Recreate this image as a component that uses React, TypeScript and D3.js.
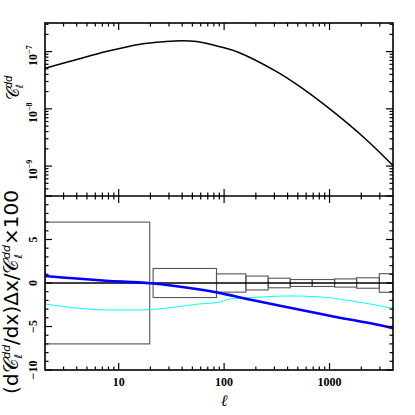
import React from "react";
import * as d3 from "d3";

// ---- data ----
const ELL_TOP = [2, 3.7, 7.6, 16, 28, 40, 55, 91, 136, 315, 524, 1084, 2249, 4000];
const CL_DD = [5.13e-8, 6.97e-8, 1.0e-7, 1.35e-7, 1.5e-7, 1.55e-7, 1.5e-7, 1.22e-7, 9.77e-8, 4.47e-8, 2.44e-8, 8.93e-9, 2.86e-9, 1.02e-9];

const ELL_BLUE = [2, 3.7, 7.6, 20, 59, 91, 124, 161, 524, 1084, 2249, 4000];
const DERIV_BLUE = [0.8, 0.54, 0.26, -0.03, -0.75, -1.15, -1.5, -1.8, -3.08, -3.84, -4.55, -5.2];

const ELL_CYAN = [2, 3.7, 7.6, 15.8, 32.8, 59, 87, 113, 175, 420, 753, 1563, 4000];
const DERIV_CYAN = [-2.41, -2.84, -3.1, -3.1, -2.8, -2.4, -2.26, -1.84, -1.69, -1.49, -1.57, -2.03, -2.91];

const BIN_LO = [2, 21.2, 84.7, 161, 262, 424, 685, 1117, 1807, 2965];
const BIN_HI = [19.7, 84.7, 161, 262, 424, 685, 1117, 1807, 2965, 4000];
const BIN_ERR = [7, 1.67, 1.05, 0.8, 0.55, 0.4, 0.4, 0.47, 0.6, 1.07];

const X_MAJOR = [10, 100, 1000];
const X_LABELS = ["10", "100", "1000"];
const TOP_MAJOR = [1e-9, 1e-8, 1e-7];
const TOP_LABELS = ["−9", "−8", "−7"];
const BOT_MAJOR = [-10, -5, 0, 5, 10];
const BOT_LABELS = ["−10", "−5", "0", "5", ""];

// ---- layout ----
const W = 415, H = 415;
const L = 45, R = 393, T = 23, M = 196, B = 370;

export default function App() {
  const x = d3.scaleLog().domain([2, 4000]).range([L, R]);
  const yTop = d3.scaleLog().domain([3.0e-10, 3.16e-7]).range([M, T]);
  const yBot = d3.scaleLinear().domain([-10, 10]).range([B, M]);

  const xMinor: number[] = [];
  for (let e = 0; e <= 3; e++) for (let k = 2; k <= 9; k++) {
    const v = k * Math.pow(10, e);
    if (v > 2 && v < 4000) xMinor.push(v);
  }
  const topMinor: number[] = [];
  for (let e = -10; e <= -7; e++) for (let k = 2; k <= 9; k++) {
    const v = k * Math.pow(10, e);
    if (v > 3.0e-10 && v < 3.16e-7) topMinor.push(v);
  }
  const botMinor = d3.range(-9, 10).filter((v) => v % 5 !== 0);

  const topLine = d3.line<number>()
    .x((_, i) => x(ELL_TOP[i]))
    .y((d) => yTop(d))
    .curve(d3.curveCatmullRom.alpha(0.5));
  const blueLine = d3.line<number>()
    .x((_, i) => x(ELL_BLUE[i]))
    .y((d) => yBot(d))
    .curve(d3.curveCatmullRom.alpha(0.5));
  const cyanLine = d3.line<number>()
    .x((_, i) => x(ELL_CYAN[i]))
    .y((d) => yBot(d))
    .curve(d3.curveMonotoneX);

  const MAJ = 7, MIN = 3.5;
  const tickStroke = { stroke: "#000", strokeWidth: 1.2 };
  const ticks: React.ReactNode[] = [];
  const xT = (v: number, len: number, key: string) => {
    const px = x(v);
    ticks.push(<line key={key + "a"} x1={px} x2={px} y1={T} y2={T + len} {...tickStroke} />);
    ticks.push(<line key={key + "b"} x1={px} x2={px} y1={M - len} y2={M + len} {...tickStroke} />);
    ticks.push(<line key={key + "c"} x1={px} x2={px} y1={B} y2={B - len} {...tickStroke} />);
  };
  X_MAJOR.forEach((v) => xT(v, MAJ, "xM" + v));
  xMinor.forEach((v) => xT(v, MIN, "xm" + v));
  const yTT = (v: number, len: number, key: string) => {
    const py = yTop(v);
    ticks.push(<line key={key + "l"} x1={L} x2={L + len} y1={py} y2={py} {...tickStroke} />);
    ticks.push(<line key={key + "r"} x1={R} x2={R - len} y1={py} y2={py} {...tickStroke} />);
  };
  TOP_MAJOR.forEach((v) => yTT(v, MAJ, "tM" + v));
  topMinor.forEach((v) => yTT(v, MIN, "tm" + v));
  const yBT = (v: number, len: number, key: string) => {
    const py = yBot(v);
    ticks.push(<line key={key + "l"} x1={L} x2={L + len} y1={py} y2={py} {...tickStroke} />);
    ticks.push(<line key={key + "r"} x1={R} x2={R - len} y1={py} y2={py} {...tickStroke} />);
  };
  BOT_MAJOR.forEach((v) => yBT(v, MAJ, "bM" + v));
  botMinor.forEach((v) => yBT(v, MIN, "bm" + v));

  const tickFont = { fontFamily: "Liberation Serif, serif", fontSize: 12, fontWeight: 700 as const };
  const labFont = { fontFamily: "DejaVu Sans, sans-serif" };

  return (
    <svg width={W} height={H} style={{ position: "absolute", left: 0, top: 0, background: "#fff" }}>
      <defs>
        <clipPath id="clipTop"><rect x={L} y={T} width={R - L} height={M - T} /></clipPath>
        <clipPath id="clipBot"><rect x={L} y={M} width={R - L} height={B - M} /></clipPath>
      </defs>
      <rect x={0} y={0} width={W} height={H} fill="#fff" />

      <path d={topLine(CL_DD) || ""} fill="none" stroke="#000" strokeWidth={1.5} clipPath="url(#clipTop)" />

      <g clipPath="url(#clipBot)">
        {BIN_ERR.map((e, i) => (
          <rect key={"bin" + i} x={x(BIN_LO[i])} width={x(BIN_HI[i]) - x(BIN_LO[i])}
            y={yBot(e)} height={yBot(-e) - yBot(e)} fill="none" stroke="#555" strokeWidth={1.1} />
        ))}
        <line x1={L} x2={R} y1={yBot(0)} y2={yBot(0)} stroke="#000" strokeWidth={1.5} />
        <path d={cyanLine(DERIV_CYAN) || ""} fill="none" stroke="#00ffff" strokeWidth={1} />
        <path d={blueLine(DERIV_BLUE) || ""} fill="none" stroke="#0000ff" strokeWidth={2.6} />
      </g>

      <rect x={L} y={T} width={R - L} height={B - T} fill="none" stroke="#000" strokeWidth={1.6} />
      <line x1={L} x2={R} y1={M} y2={M} stroke="#000" strokeWidth={1.6} />
      {ticks}

      {X_MAJOR.map((v, i) => (
        <text key={"xl" + v} x={x(v)} y={386} textAnchor="middle" {...tickFont}>{X_LABELS[i]}</text>
      ))}
      {TOP_MAJOR.map((v, i) => (
        <text key={"tl" + v} transform={`translate(37,${yTop(v) + 4}) rotate(-90)`} textAnchor="middle" {...tickFont}>
          10<tspan fontSize={8} dy={-5}>{TOP_LABELS[i]}</tspan>
        </text>
      ))}
      {BOT_MAJOR.map((v, i) => (
        <text key={"bl" + v} transform={`translate(37,${yBot(v)}) rotate(-90)`} textAnchor="middle" {...tickFont}>
          {BOT_LABELS[i]}
        </text>
      ))}

      <text x={x(100)} y={406} textAnchor="middle" fontFamily="DejaVu Serif, serif" fontStyle="italic" fontSize={16}>ℓ</text>
      <text transform={`translate(19,88) rotate(-90)`} textAnchor="middle" {...labFont} fontSize={17}>
        𝒞<tspan fontSize={10} dy={4} fontStyle="italic">ℓ</tspan><tspan fontSize={10} dy={-11} dx={-4} fontStyle="italic">dd</tspan>
      </text>
      <text transform={`translate(18,292) rotate(-90)`} textAnchor="middle" {...labFont} fontSize={20}>
        (d𝒞<tspan fontSize={11} dy={4} fontStyle="italic">ℓ</tspan><tspan fontSize={11} dy={-12} dx={-5} fontStyle="italic">dd</tspan>
        <tspan dy={8}>/dx)Δx/𝒞</tspan><tspan fontSize={11} dy={4} fontStyle="italic">ℓ</tspan><tspan fontSize={11} dy={-12} dx={-5} fontStyle="italic">dd</tspan>
        <tspan dy={8}>×100</tspan>
      </text>
    </svg>
  );
}
